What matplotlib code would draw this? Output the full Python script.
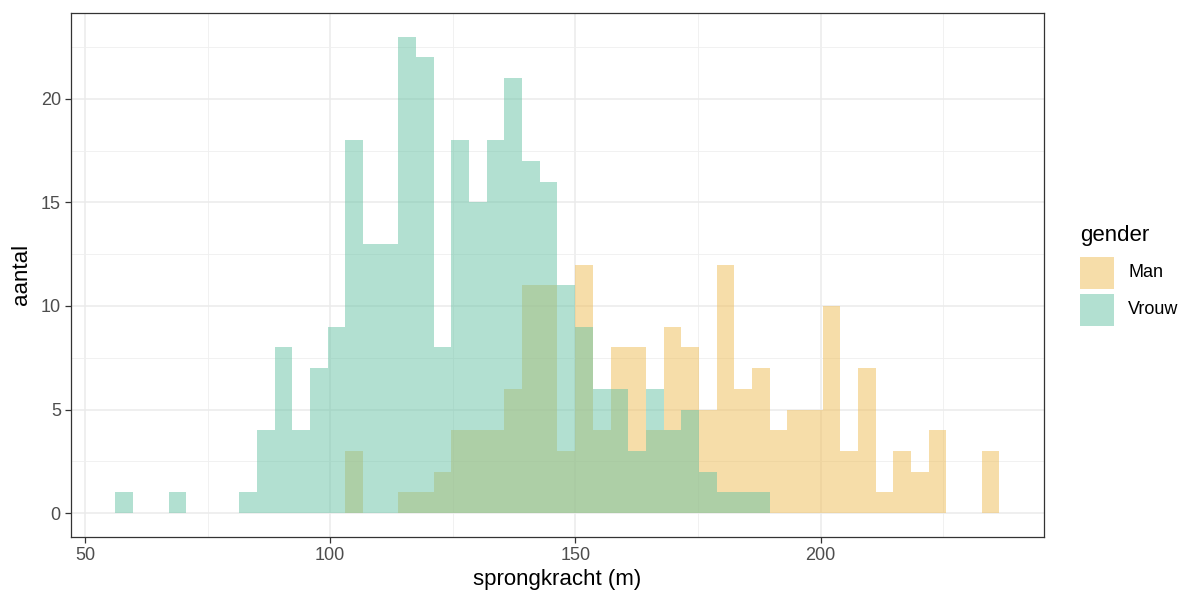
import numpy as np
import matplotlib.pyplot as plt
from matplotlib.patches import Rectangle
from matplotlib.ticker import MultipleLocator

plt.rcParams['font.family'] = ['Liberation Sans', 'DejaVu Sans']

# Data: 50 shared bins, counts
bin_lo, bin_hi, n_bins = 56.2, 236.5, 50
groups = ['Man', 'Vrouw']
man_counts = [0, 0, 0, 0, 0, 0, 0, 0, 0, 0,
              0, 0, 0, 3, 0, 0, 1, 1, 2, 4,
              4, 4, 6, 11, 11, 3, 12, 4, 8, 8,
              4, 9, 8, 5, 12, 6, 7, 4, 5, 5,
              10, 3, 7, 1, 3, 2, 4, 0, 0, 3]
vrouw_counts = [1, 0, 0, 1, 0, 0, 0, 1, 4, 8,
                4, 7, 9, 18, 13, 13, 23, 22, 8, 18,
                15, 18, 21, 17, 16, 11, 9, 6, 6, 3,
                6, 4, 5, 2, 1, 1, 1, 0, 0, 0,
                0, 0, 0, 0, 0, 0, 0, 0, 0, 0]
colors = ['#EFBD55', '#66C2A5']

edges = np.linspace(bin_lo, bin_hi, n_bins + 1)

W, H = 1188, 593
fig = plt.figure(figsize=(W / 100, H / 100), dpi=100)
ax = fig.add_axes([0.060, 0.0944, 0.8185, 0.884])

for counts, col in zip([man_counts, vrouw_counts], colors):
    ax.stairs(counts, edges, fill=True, color=col, alpha=0.5, linewidth=0, zorder=2)

span = bin_hi - bin_lo
ax.set_xlim(bin_lo - 0.05 * span, bin_hi + 0.05 * span)
ymax = max(max(man_counts), max(vrouw_counts))
ax.set_ylim(-0.05 * ymax, 1.05 * ymax)

ax.xaxis.set_major_locator(MultipleLocator(50))
ax.xaxis.set_minor_locator(MultipleLocator(25))
ax.yaxis.set_major_locator(MultipleLocator(5))
ax.yaxis.set_minor_locator(MultipleLocator(2.5))
ax.grid(which='major', color='#EBEBEB', linewidth=1.1, zorder=0)
ax.grid(which='minor', color='#EFEFEF', linewidth=0.6, zorder=0)
ax.set_axisbelow(True)

for s in ax.spines.values():
    s.set_color('#333333')
    s.set_linewidth(0.9)
ax.tick_params(which='major', length=4.5, width=0.9, color='#333333',
               labelcolor='#4D4D4D', labelsize=13, pad=3)
ax.tick_params(which='minor', length=0)

ax.set_xlabel('sprongkracht (m)', fontsize=16, labelpad=3)
ax.set_ylabel('aantal', fontsize=16, labelpad=6)

# legend drawn by hand, ggplot style (square keys stacked)
key_x, key_w, key_h, key_gap = 1080, 34, 32, 5
key_top = 257
fig.text(key_x / W, 1 - 236 / H, 'gender', fontsize=16, ha='left', va='center')
for k, (lab, col) in enumerate(zip(groups, colors)):
    top = key_top + k * (key_h + key_gap)
    fig.add_artist(Rectangle((key_x / W, 1 - (top + key_h) / H), key_w / W, key_h / H,
                             transform=fig.transFigure, facecolor=col, alpha=0.5,
                             edgecolor='none'))
    fig.text(1128 / W, 1 - (top + key_h / 2) / H, lab, fontsize=13,
             ha='left', va='center')

fig.savefig('out.png', dpi=100)
